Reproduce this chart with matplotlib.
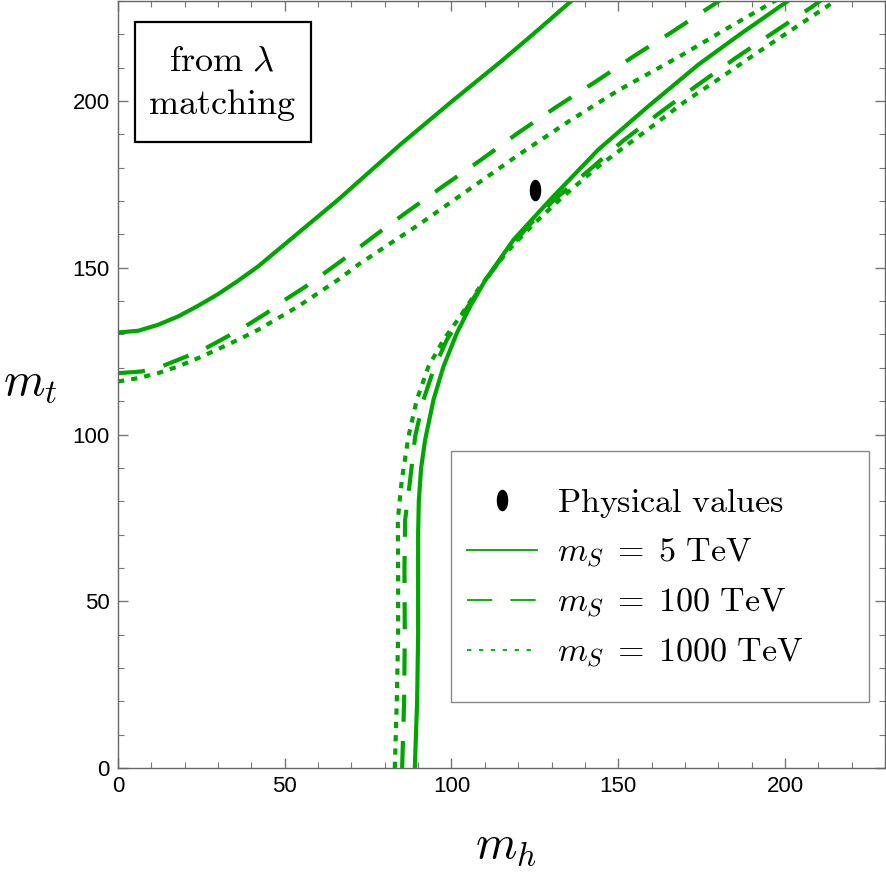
import numpy as np
import matplotlib
matplotlib.use("Agg")
import matplotlib.pyplot as plt
from matplotlib.lines import Line2D
from matplotlib.patches import Rectangle
from matplotlib.path import Path

plt.rcParams['font.family'] = ['Liberation Sans', 'DejaVu Sans']
plt.rcParams['mathtext.fontset'] = 'cm'

green = '#00a600'

# upper branches (m_h -> m_t)
up5_mh = [0, 6, 12, 18, 24, 30, 36, 42, 48, 54, 60, 66, 75, 84.6, 100, 115, 125, 136.5]
up5_mt = [130.6, 131.1, 132.9, 135.4, 138.6, 142.1, 146.1, 150.4, 155.4, 160.4, 165.4, 170.4,
          178.4, 186.9, 199.8, 212.0, 220.5, 230.5]

up100_mh = [0, 7, 13, 20.5, 25.8, 32.8, 37.8, 44.5, 49.3, 56, 60.8, 67, 71.8, 78, 86.2,
            97.4, 108.9, 119.9, 131.4, 142.9, 154.6, 166.1, 181.0]
up100_mt = [118.4, 118.9, 120.4, 123.4, 125.6, 129.4, 132.2, 136.4, 139.9, 144.2, 147.6,
            152.1, 155.7, 160.4, 166.4, 174.4, 182.4, 190.4, 198.2, 205.6, 213.4, 220.7, 230.5]

up1000_mh = [0, 6, 12, 18, 24, 30, 36, 42, 48, 54, 60, 66, 72, 78, 90, 105, 120, 135, 150,
             168.6, 183, 197.8]
up1000_mt = [115.9, 116.9, 118.4, 120.4, 122.9, 125.6, 128.4, 131.4, 134.9, 138.4, 142.4,
             146.4, 150.9, 154.9, 162.8, 173.3, 183.8, 193.8, 203.2, 213.5, 222.0, 230.5]

# lower branches (m_t -> m_h)
lo5_mt = [0, 20, 40, 60, 70, 80, 90, 98.4, 110.4, 120.4, 130.4, 138.4, 146.4, 158.4, 170.4,
          185.4, 198, 210.9, 220, 230.5]
lo5_mh = [89.0, 89.7, 90.0, 90.0, 90.0, 90.2, 90.9, 92.1, 94.6, 97.6, 101.6, 105.6, 110.2,
          118.6, 129.6, 144.0, 158.5, 174.0, 186.5, 201.6]

lo100_mt = [0, 20, 40, 60, 74.4, 86.4, 99.4, 110.4, 119.4, 128.4, 136.4, 145.4, 155, 163,
            170.4, 179.4, 188.2, 196.6, 204.8, 212.9, 220.6, 228.3, 230.5]
lo100_mh = [85.2, 85.8, 86.0, 85.9, 86.1, 87.6, 89.1, 91.6, 94.6, 98.6, 103.6, 109.6, 116.5,
            123.5, 130.8, 141.4, 151.6, 162.6, 173.8, 185.2, 196.6, 208.2, 211.2]

lo1000_mt = [0, 20, 40, 60, 74.4, 86.4, 99.4, 110.4, 120.4, 128.4, 135.4, 144.4, 155, 163,
             170.4, 180, 192, 199.9, 205.9, 214.1, 222.4, 230.5]
lo1000_mh = [83.0, 83.6, 84.0, 84.0, 83.9, 85.1, 87.1, 89.6, 93.1, 97.6, 102.6, 108.6, 116.8,
             124.5, 132.4, 143.5, 159.6, 170.1, 179.1, 191.1, 203.6, 215.8]

phys_mh = [125.1]
phys_mt = [173.2]

legend_labels = [r'$\mathrm{Physical\ values}$',
                 r'$m_S\;=\;5\ \mathrm{TeV}$',
                 r'$m_S\;=\;100\ \mathrm{TeV}$',
                 r'$m_S\;=\;1000\ \mathrm{TeV}$']

fig = plt.figure(figsize=(8.86, 8.77), dpi=100)
ax = fig.add_axes([118/886, 1-768/877, 767/886, 767/877])

lw = 3.0
dash = (6.5, 4.6)
dot = (1.5, 1.7)
ax.plot(up5_mh, up5_mt, color=green, lw=lw, solid_capstyle='butt')
ax.plot(lo5_mh, lo5_mt, color=green, lw=lw, solid_capstyle='butt')
ax.plot(up100_mh, up100_mt, color=green, lw=lw, dashes=dash, dash_capstyle='butt')
ax.plot(lo100_mh, lo100_mt, color=green, lw=lw, dashes=dash, dash_capstyle='butt')
ax.plot(up1000_mh, up1000_mt, color=green, lw=lw, dashes=dot, dash_capstyle='butt')
ax.plot(lo1000_mh, lo1000_mt, color=green, lw=lw, dashes=dot, dash_capstyle='butt')

# tall ellipse marker
t = np.linspace(0, 2*np.pi, 60)
ell = Path(np.column_stack([0.5*np.cos(t), np.sin(t)]))
ax.plot(phys_mh, phys_mt, linestyle='none', marker=ell, markersize=14.5,
        color='black')

ax.set_xlim(0, 230)
ax.set_ylim(0, 230)
ax.set_xticks(np.arange(0, 201, 50))
ax.set_yticks(np.arange(0, 201, 50))
ax.set_xticks(np.arange(0, 231, 10), minor=True)
ax.set_yticks(np.arange(0, 231, 10), minor=True)
ax.tick_params(which='both', direction='in', top=True, right=True,
               color='#777777', labelsize=16, pad=6)
ax.tick_params(which='major', length=7, width=1)
ax.tick_params(which='minor', length=4.3, width=0.8)
for s in ax.spines.values():
    s.set_color('#666666')
    s.set_linewidth(1)

fig.text(30/886, 1-383/877, r'$m_t$', fontsize=34, ha='center', va='center')
fig.text(506/886, 1-846/877, r'$m_h$', fontsize=34, ha='center', va='center')

# "from lambda matching" box
ax.add_patch(Rectangle((17/767, 627/768), 176/767, 120/768, transform=ax.transAxes,
                       fill=False, edgecolor='black', lw=1.6, zorder=5))
ax.text(0.135, 0.9089, r'$\mathrm{from}\ \lambda$', transform=ax.transAxes,
        fontsize=26, ha='center', va='baseline')
ax.text(0.135, 0.8529, r'$\mathrm{matching}$', transform=ax.transAxes,
        fontsize=26, ha='center', va='baseline')

# legend
fig.add_artist(Rectangle((451/886, 1-702/877), 418/886, 251/877,
                         transform=fig.transFigure, facecolor='white',
                         edgecolor='#888888', lw=1, zorder=3))
handles = [
    Line2D([], [], linestyle='none', marker=ell, markersize=14.5, color='black'),
    Line2D([], [], color=green, lw=1.3),
    Line2D([], [], color=green, lw=1.3, dashes=(14, 10)),
    Line2D([], [], color=green, lw=1.3, dashes=(2.4, 4.2)),
]
leg = fig.legend(handles, legend_labels, loc='center left',
                 bbox_to_anchor=(467/886, 1-578/877), frameon=False,
                 fontsize=24.5, borderpad=0, borderaxespad=0,
                 handlelength=2.05, handletextpad=0.6, labelspacing=0.5)
leg.set_zorder(4)

fig.savefig('out.png', dpi=100)
